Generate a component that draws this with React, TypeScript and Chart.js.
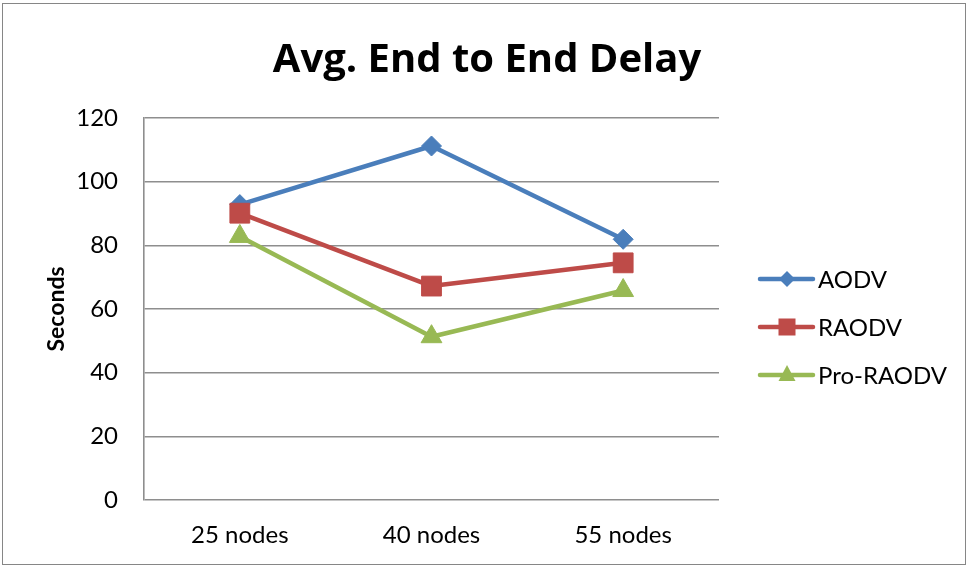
import React, { useEffect, useRef } from 'react';
import { Chart, registerables } from 'chart.js';

Chart.register(...registerables);

const categories = ['25 nodes', '40 nodes', '55 nodes'];
const seriesNames = ['AODV', 'RAODV', 'Pro-RAODV'];
const aodv = [92.8, 111.2, 81.9];
const raodv = [90.1, 67.2, 74.5];
const proRaodv = [82.8, 51.3, 65.8];
const yMin = 0;
const yMax = 120;
const yStep = 20;
const titleText = 'Avg. End to End Delay';
const yTitleText = 'Seconds';

const colors = ['#4A7EBB', '#BE4B48', '#98B954'];
const styles = ['rectRot', 'rect', 'triangle'];
const GRID = '#8e8e8e';

const decorPlugin = {
  id: 'decor',
  beforeDraw(chart: any) {
    const ctx = chart.ctx;
    ctx.save();
    ctx.fillStyle = '#ffffff';
    ctx.fillRect(0, 0, chart.width, chart.height);
    ctx.restore();
  },
  afterDraw(chart: any) {
    const ctx = chart.ctx;
    const area = chart.chartArea;
    ctx.save();
    // outer border
    ctx.strokeStyle = '#868686';
    ctx.lineWidth = 1;
    ctx.strokeRect(2.5, 3.5, 963, 561);

    // title
    ctx.fillStyle = '#000';
    ctx.font = 'bold 40px "Open Sans"';
    ctx.textAlign = 'center';
    ctx.textBaseline = 'alphabetic';
    ctx.fillText(titleText, 487, 72);

    // y title
    ctx.save();
    ctx.translate(64, (area.top + area.bottom) / 2);
    ctx.rotate(-Math.PI / 2);
    ctx.font = 'bold 23px Lato';
    ctx.textAlign = 'center';
    ctx.textBaseline = 'alphabetic';
    ctx.fillText(yTitleText, 0, 0);
    ctx.restore();

    // legend
    const legendY = [279, 327, 375];
    seriesNames.forEach((name, i) => {
      const y = legendY[i];
      const c = colors[i];
      ctx.strokeStyle = c;
      ctx.fillStyle = c;
      ctx.lineWidth = 4.5;
      ctx.lineCap = 'round';
      ctx.beginPath();
      ctx.moveTo(760, y);
      ctx.lineTo(813, y);
      ctx.stroke();
      const cx = 787;
      ctx.beginPath();
      if (styles[i] === 'rectRot') {
        const r = 8;
        ctx.moveTo(cx, y - r);
        ctx.lineTo(cx + r, y);
        ctx.lineTo(cx, y + r);
        ctx.lineTo(cx - r, y);
        ctx.closePath();
        ctx.fill();
      } else if (styles[i] === 'rect') {
        const s = 17;
        ctx.fillRect(cx - s / 2, y - s / 2, s, s);
      } else {
        const w = 17;
        const h = 16;
        ctx.moveTo(cx, y - h / 2 - 2);
        ctx.lineTo(cx + w / 2, y + h / 2 - 2);
        ctx.lineTo(cx - w / 2, y + h / 2 - 2);
        ctx.closePath();
        ctx.fill();
      }
      ctx.fillStyle = '#000';
      ctx.font = '24px Lato';
      ctx.textAlign = 'left';
      ctx.textBaseline = 'alphabetic';
      ctx.fillText(name, 818, y + 9);
    });
    ctx.restore();
  },
};

export default function App() {
  const ref = useRef<HTMLCanvasElement | null>(null);

  useEffect(() => {
    document.body.style.margin = '0';
    const canvas = ref.current;
    if (!canvas) return;
    const data = [aodv, raodv, proRaodv];
    const radii = [10, 14, 12];
    const chart = new Chart(canvas, {
      type: 'line',
      data: {
        labels: categories,
        datasets: seriesNames.map((name, i) => ({
          label: name,
          data: data[i],
          borderColor: colors[i],
          backgroundColor: colors[i],
          pointBackgroundColor: colors[i],
          pointBorderColor: colors[i],
          borderWidth: 4.5,
          borderCapStyle: 'round',
          borderJoinStyle: 'round',
          pointStyle: styles[i] as any,
          pointRadius: radii[i],
          pointBorderWidth: 1,
          tension: 0,
          fill: false,
          order: 3 - i,
        })),
      },
      options: {
        responsive: false,
        animation: false,
        devicePixelRatio: 1,
        layout: { padding: { top: 118, right: 251, left: 0, bottom: 0 } },
        plugins: {
          legend: { display: false },
          title: { display: false },
          tooltip: { enabled: false },
        },
        scales: {
          x: {
            offset: true,
            grid: { display: false },
            border: { display: false },
            ticks: {
              color: '#000',
              font: { family: 'Lato', size: 24 },
              padding: 13,
              maxRotation: 0,
            },
            afterFit: (scale: any) => {
              scale.height = 67;
            },
          },
          y: {
            min: yMin,
            max: yMax,
            grid: { color: GRID, lineWidth: 1.6, drawTicks: false },
            border: { display: true, color: GRID, width: 1.6 },
            ticks: {
              stepSize: yStep,
              color: '#000',
              font: { family: 'Lato', size: 24 },
              padding: 26,
            },
            afterFit: (scale: any) => {
              scale.width = 144;
            },
          },
        },
      },
      plugins: [decorPlugin],
    });
    return () => chart.destroy();
  }, []);

  return (
    <div style={{ width: 970, height: 567 }}>
      <canvas ref={ref} width={970} height={567} style={{ width: 970, height: 567, display: 'block' }} />
    </div>
  );
}
